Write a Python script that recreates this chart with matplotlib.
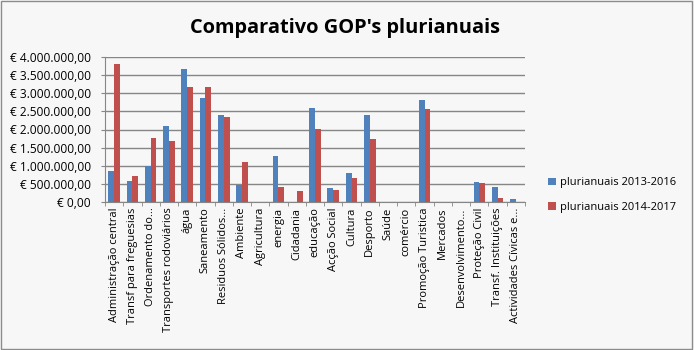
import numpy as np
import matplotlib
matplotlib.use("Agg")
import matplotlib.pyplot as plt
from matplotlib.ticker import FuncFormatter

categories = [
    "Administração central", "Transf para freguesias", "Ordenamento do...",
    "Transportes rodoviários", "água", "Saneamento", "Residuos Sólidos...",
    "Ambiente", "Agricultura", "energia", "Cidadania", "educação",
    "Acção Social", "Cultura", "Desporto", "Saúde", "comércio",
    "Promoção Turistica", "Mercados", "Desenvolvimento...", "Proteção Civil",
    "Transf. Instituições", "Actividades Cívicas e...",
]
pluri_2013_2016 = [
    850000, 570000, 1000000, 2110000, 3670000, 2870000, 2400000,
    460000, 0, 1260000, 0, 2590000, 390000, 790000, 2400000, 0, 0,
    2820000, 0, 0, 540000, 420000, 70000,
]
pluri_2014_2017 = [
    3810000, 710000, 1760000, 1680000, 3180000, 3180000, 2350000,
    1100000, 0, 420000, 300000, 2020000, 320000, 660000, 1740000, 0, 0,
    2570000, 0, 0, 520000, 110000, 0,
]
series_names = ["plurianuais 2013-2016", "plurianuais 2014-2017"]
y_ticks = np.arange(0, 4000001, 500000)

BLUE = "#4f81bd"
RED = "#c0504d"
BG = "#f7f7f7"
FONT = ["Open Sans", "DejaVu Sans"]


def euro(v, pos=None):
    s = f"{v:,.2f}"
    s = s.replace(",", "X").replace(".", ",").replace("X", ".")
    return "€ " + s


def main():
    plt.rcParams["font.family"] = FONT
    fig = plt.figure(figsize=(6.94, 3.5), dpi=100, facecolor=BG)
    fig.patches.append(plt.Rectangle((0.002, 0.003), 0.995, 0.994, transform=fig.transFigure,
                                     fill=False, edgecolor="#8c8c8c", linewidth=1.0))
    ax = fig.add_axes([105 / 694, 1 - 202 / 350, 420 / 694, 145 / 350])
    ax.set_facecolor(BG)

    x = np.arange(len(categories))
    w = 0.32
    ax.bar(x - w / 2, pluri_2013_2016, width=w, color=BLUE, label=series_names[0], zorder=3)
    ax.bar(x + w / 2, pluri_2014_2017, width=w, color=RED, label=series_names[1], zorder=3)

    ax.set_xlim(-0.5, len(categories) - 0.5)
    ax.set_ylim(0, 4000000)
    ax.set_yticks(y_ticks)
    ax.yaxis.set_major_formatter(FuncFormatter(euro))
    ax.grid(axis="y", color="#868686", linewidth=1.0, zorder=0)
    ax.tick_params(axis="y", length=3, color="#868686", labelsize=8.6, pad=7)

    ax.set_xticks(x)
    ax.set_xticklabels(categories, rotation=90, fontsize=8)
    ax.tick_params(axis="x", length=0, pad=4)
    ax.set_xticks(np.arange(len(categories) + 1) - 0.5, minor=True)
    ax.tick_params(axis="x", which="minor", length=3, color="#868686")

    for side in ["top", "right"]:
        ax.spines[side].set_visible(False)
    ax.spines["left"].set_color("#868686")
    ax.spines["bottom"].set_color("#868686")

    fig.text(345 / 694, 1 - 28 / 350, "Comparativo GOP's plurianuais",
             ha="center", va="center", fontsize=14.4, fontweight="bold")

    handles, labels = ax.get_legend_handles_labels()
    fig.legend(handles, labels, loc="center left", bbox_to_anchor=(538 / 694, 1 - 195 / 350),
               frameon=False, fontsize=8, handlelength=0.7, handleheight=0.7,
               handletextpad=0.4, labelspacing=1.2)

    fig.savefig("out.png", dpi=100, facecolor=BG)
    plt.close(fig)


if __name__ == "__main__":
    main()
